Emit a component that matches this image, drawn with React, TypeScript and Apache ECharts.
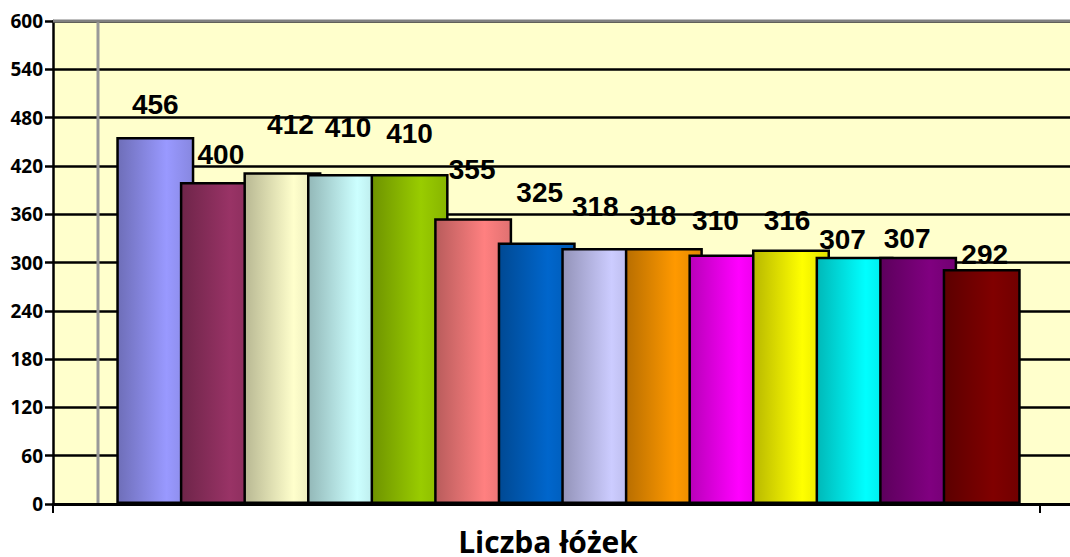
import React, { useEffect, useRef } from "react";
import * as echarts from "echarts";

const category = ["Liczba łóżek"];
const values = [456, 400, 412, 410, 410, 355, 325, 318, 318, 310, 316, 307, 307, 292];
const baseColors = [
  "#9999FF", "#993366", "#FFFFCC", "#CCFFFF", "#99CC00", "#FF8080", "#0066CC",
  "#CCCCFF", "#FF9900", "#FF00FF", "#FFFF00", "#00FFFF", "#800080", "#800000",
];
const yTicks = [0, 60, 120, 180, 240, 300, 360, 420, 480, 540, 600];
// label lift above bar tops (3D perspective look of the reference)
const labelLift = [18, 14, 34, 32, 26, 35, 36, 28, 19, 20, 15, 3, 4, 0];
const labelShiftX = [0, 2, 8, 2, 0, -1, 3, -5, -11, -12, -4, -12, -11, 3];

function shade(hex: string, f: number): string {
  const n = parseInt(hex.slice(1), 16);
  const r = Math.round(((n >> 16) & 255) * f);
  const g = Math.round(((n >> 8) & 255) * f);
  const b = Math.round((n & 255) * f);
  return `rgb(${r},${g},${b})`;
}

export default function App() {
  const ref = useRef<HTMLDivElement>(null);
  useEffect(() => {
    if (!ref.current) return;
    const chart = echarts.init(ref.current, null, { renderer: "svg" });
    const series = values.map((v, i) => ({
      type: "bar",
      name: "s" + i,
      xAxisIndex: 1,
      yAxisIndex: 1,
      data: [v],
      barWidth: 78,
      barGap: "-18.5%",
      itemStyle: {
        color: new echarts.graphic.LinearGradient(0, 0, 1, 0, [
          { offset: 0, color: shade(baseColors[i], 0.72) },
          { offset: 0.65, color: baseColors[i] },
          { offset: 1, color: shade(baseColors[i], 0.88) },
        ]),
        borderColor: "#000",
        borderWidth: 2.5,
      },
      label: {
        show: true,
        position: "top",
        distance: labelLift[i],
        offset: [labelShiftX[i], 0],
        color: "#000",
        fontFamily: "Liberation Sans",
        fontWeight: "bold",
        fontSize: 28,
      },
    }));
    chart.setOption({
      animation: false,
      backgroundColor: "#fff",
      grid: [
        { left: 53, right: 0, top: 21, bottom: 53, show: true, backgroundColor: "#FFFFCC", borderWidth: 0 },
        { left: 116, right: 49, top: 21, bottom: 53 },
      ],
      xAxis: [
        {
          type: "category",
          gridIndex: 0,
          data: category,
          axisLine: { lineStyle: { color: "#000", width: 3 } },
          axisTick: { show: false },
          axisLabel: { show: false },
        },
        {
          type: "category",
          gridIndex: 1,
          data: category,
          axisLine: { show: false },
          axisTick: { show: false },
          axisLabel: { show: false },
          splitLine: { show: false },
        },
      ],
      yAxis: [
        {
          type: "value",
          gridIndex: 0,
          min: 0,
          max: 600,
          interval: 60,
          axisLine: { show: true, lineStyle: { color: "#000", width: 2.5 } },
          axisTick: { show: true, length: 8, lineStyle: { color: "#000", width: 2.5 } },
          axisLabel: {
            show: true,
            color: "#000",
            fontFamily: "Open Sans",
            fontWeight: "bold",
            fontSize: 19,
            margin: 10,
            formatter: (v: number) => (yTicks.includes(v) ? String(v) : ""),
          },
          splitLine: { lineStyle: { color: "#000", width: 2.5 } },
        },
        {
          type: "value",
          gridIndex: 1,
          min: 0,
          max: 600,
          interval: 60,
          axisLine: { show: false },
          axisTick: { show: false },
          axisLabel: { show: false },
          splitLine: { show: false },
        },
      ],
      graphic: [
        { type: "line", shape: { x1: 53, y1: 21, x2: 1070, y2: 21 }, style: { stroke: "#808080", lineWidth: 3 }, z: 5 },
        { type: "line", shape: { x1: 98, y1: 21, x2: 98, y2: 503 }, style: { stroke: "#999", lineWidth: 3 }, z: 1 },
        { type: "line", shape: { x1: 1040, y1: 504, x2: 1040, y2: 513 }, style: { stroke: "#000", lineWidth: 2 }, z: 5 },
        { type: "line", shape: { x1: 53, y1: 504, x2: 53, y2: 513 }, style: { stroke: "#000", lineWidth: 2 }, z: 5 },
        {
          type: "text",
          x: 548,
          y: 541,
          style: {
            text: "Liczba łóżek",
            fontFamily: "Open Sans",
            fontWeight: "bold",
            fontSize: 30,
            fill: "#000",
            textAlign: "center",
            textVerticalAlign: "middle",
          },
        },
      ],
      series,
    });
    return () => chart.dispose();
  }, []);
  return <div ref={ref} style={{ width: 1070, height: 557, position: "absolute", left: 0, top: 0 }} />;
}
